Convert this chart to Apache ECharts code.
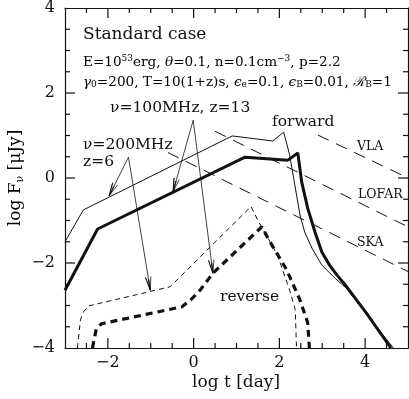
<!DOCTYPE html>
<html>
<head>
<meta charset="utf-8">
<script src="https://cdn.jsdelivr.net/npm/echarts@6/dist/echarts.min.js"></script>
<style>
  html, body { margin: 0; padding: 0; background: #fff; }
  #chart { width: 409px; height: 399px; }
</style>
</head>
<body>
<div id="chart"></div>
<script>
  // light curves: [log t (day), log F (uJy)]
  var fwd100 = [[-3,-2.64],[-2.24,-1.2],[1.2,0.49],[2.2,0.42],[2.43,0.59],[2.52,-0.09],[2.66,-0.71],[2.83,-1.27],[2.99,-1.74],[3.17,-2.05],[3.34,-2.28],[3.57,-2.56],[4.03,-3.18],[4.6,-4.0]];
  var fwd200 = [[-3,-1.5],[-2.57,-0.75],[0.9,0.99],[1.85,0.87],[2.1,1.08],[2.24,0.54],[2.36,-0.16],[2.48,-0.87],[2.59,-1.27],[2.76,-1.65],[2.99,-2.05],[3.3,-2.36],[3.57,-2.6],[4.03,-3.2],[4.66,-4.0]];
  var rev200 = [[-2.71,-4.0],[-2.64,-3.34],[-2.57,-3.15],[-2.45,-3.01],[-0.55,-2.56],[1.34,-0.67],[1.5,-1.0],[1.95,-1.8],[2.24,-2.64],[2.37,-3.1],[2.4,-4.0]];
  var rev100 = [[-2.36,-4.0],[-2.27,-3.55],[-2.15,-3.43],[-0.27,-3.03],[-0.05,-2.85],[0.15,-2.64],[0.45,-2.24],[1.59,-1.15],[1.78,-1.5],[2.17,-2.16],[2.48,-2.87],[2.66,-3.4],[2.7,-4.0]];

  // detector sensitivities
  var vla = [[2.9,1.01],[5,0]];
  var lofar = [[0.5,1.1],[5,-1.15]];
  var ska = [[-0.6,0.6],[5,-2.2]];

  // annotation arrows: start point, then the tips
  var arrowFrom200 = [-1.52,0.49];
  var arrowTo200 = [[-1.97,-0.42],[-1.01,-2.64]];
  var arrowFrom100 = [-0.01,1.36];
  var arrowTo100 = [[-0.48,-0.32],[0.45,-2.24]];

  // tick marks (all four sides, pointing in)
  var xMajor = [-2, 0, 2, 4];
  var xMinor = [-2.5, -1.5, -1, -0.5, 0.5, 1, 1.5, 2.5, 3, 3.5, 4.5];
  var yMajor = [-2, 0, 2];
  var yMinor = [-3.5, -3, -2.5, -1.5, -1, -0.5, 0.5, 1, 1.5, 2.5, 3, 3.5];

  var X0 = -3, X1 = 5, Y0 = -4, Y1 = 4;
  var font = 'DejaVu Serif';
  var ink = '#111';

  function minus(v) {
    return v < 0 ? '\u2212' + (-v) : '' + v;
  }
  function evenOnly(v) {
    return Math.abs(v % 2) < 1e-9 ? minus(v) : '';
  }

  // arrow = shaft plus short barbs at the tip
  function arrowData(from, to) {
    var dx = from[0] - to[0], dy = from[1] - to[1];
    var len = Math.sqrt(dx * dx + dy * dy);
    dx /= len; dy /= len;
    var L = 0.32, a = 0.2;
    var c = Math.cos(a), s = Math.sin(a);
    var l = [to[0] + L * (dx * c - dy * s), to[1] + L * (dx * s + dy * c)];
    var r = [to[0] + L * (dx * c + dy * s), to[1] + L * (-dx * s + dy * c)];
    var m = [to[0] + L * 0.8 * dx, to[1] + L * 0.8 * dy];
    return [from, to, l, to, m, to, r];
  }

  function lineSeries(data, width, dash) {
    return {
      type: 'line',
      data: data,
      showSymbol: false,
      silent: true,
      lineStyle: { color: ink, width: width, type: dash || 'solid' },
      z: 3
    };
  }

  // tick data: [value, kind] kind 0 x minor, 1 x major, 2 y minor, 3 y major
  var tickData = [];
  xMinor.forEach(function (v) { tickData.push([v, 0]); });
  xMajor.forEach(function (v) { tickData.push([v, 1]); });
  yMinor.forEach(function (v) { tickData.push([v, 2]); });
  yMajor.forEach(function (v) { tickData.push([v, 3]); });

  function renderTick(params, api) {
    var v = api.value(0), kind = api.value(1);
    var len = (kind === 1 || kind === 3) ? 10 : 5;
    var st = { stroke: ink, lineWidth: 1.2 };
    var a, b;
    if (kind < 2) {
      a = api.coord([v, Y0]); b = api.coord([v, Y1]);
      return { type: 'group', children: [
        { type: 'line', shape: { x1: a[0], y1: a[1], x2: a[0], y2: a[1] - len }, style: st },
        { type: 'line', shape: { x1: b[0], y1: b[1], x2: b[0], y2: b[1] + len }, style: st }
      ] };
    }
    a = api.coord([X0, v]); b = api.coord([X1, v]);
    return { type: 'group', children: [
      { type: 'line', shape: { x1: a[0], y1: a[1], x2: a[0] + len, y2: a[1] }, style: st },
      { type: 'line', shape: { x1: b[0], y1: b[1], x2: b[0] - len, y2: b[1] }, style: st }
    ] };
  }

  var series = [
    lineSeries(fwd200, 1),
    lineSeries(fwd100, 3),
    lineSeries(rev200, 1, [5, 4]),
    lineSeries(rev100, 3.2, [7, 5]),
    lineSeries(vla, 1, [12, 8]),
    lineSeries(lofar, 1, [12, 8]),
    lineSeries(ska, 1, [12, 8])
  ];
  arrowTo200.forEach(function (t) { series.push(lineSeries(arrowData(arrowFrom200, t), 0.8)); });
  arrowTo100.forEach(function (t) { series.push(lineSeries(arrowData(arrowFrom100, t), 0.8)); });
  series.push({
    type: 'custom',
    data: tickData,
    renderItem: renderTick,
    clip: false,
    silent: true,
    z: 4
  });

  function ls() { return { color: ink, width: 1.2 }; }

  function xAx(pos, withLabel) {
    return {
      type: 'value', min: X0, max: X1, interval: 0.5, position: pos,
      axisLine: { show: true, onZero: false, lineStyle: ls() },
      axisTick: { show: false },
      axisLabel: withLabel
        ? { show: true, formatter: evenOnly, fontFamily: font, fontSize: 16, color: ink, margin: 7 }
        : { show: false },
      splitLine: { show: false }
    };
  }

  function yAx(pos, withLabel) {
    return {
      type: 'value', min: Y0, max: Y1, interval: 2, position: pos,
      axisLine: { show: true, onZero: false, lineStyle: ls() },
      axisTick: { show: false },
      axisLabel: withLabel
        ? { show: true, formatter: minus, fontFamily: font, fontSize: 16, color: ink, margin: 10 }
        : { show: false },
      splitLine: { show: false }
    };
  }

  function txt(x, y, text, size) {
    return {
      type: 'text', z: 10,
      style: { text: text, x: x, y: y, fill: ink, font: size + 'px "' + font + '"', textVerticalAlign: 'middle' }
    };
  }

  var fs = 13.6;
  var small = { fontFamily: font, fontSize: fs, color: ink };
  var ital = { fontFamily: font, fontSize: fs, fontStyle: 'italic', color: ink };
  var sup = { fontFamily: font, fontSize: 9, color: ink, verticalAlign: 'top', padding: [0, 0, 6, 0] };
  var sub = { fontFamily: font, fontSize: 9, color: ink, verticalAlign: 'bottom', padding: [6, 0, 0, 0] };

  var chart = echarts.init(document.getElementById('chart'), null, { renderer: 'canvas' });
  chart.setOption({
    animation: false,
    grid: { left: 65, right: 1, top: 8, bottom: 51, containLabel: false, outerBoundsMode: 'none' },
    xAxis: [xAx('bottom', true), xAx('top', false)],
    yAxis: [yAx('left', true), yAx('right', false)],
    series: series,
    graphic: [
      {
        type: 'text', z: 10,
        style: { text: 'log t [day]', x: 236, y: 383, fill: ink, font: '17px "' + font + '"', textAlign: 'center', textVerticalAlign: 'middle' }
      },
      {
        type: 'text', z: 10, x: 16, y: 178, rotation: Math.PI / 2,
        style: {
          text: '{t|log F}{s|\u03bd}{t| [\u03bcJy]}', textAlign: 'center', textVerticalAlign: 'middle',
          rich: {
            t: { fontFamily: font, fontSize: 17, color: ink },
            s: { fontFamily: font, fontSize: 11, color: ink, verticalAlign: 'bottom', padding: [8, 0, 0, 0] }
          }
        }
      },
      txt(83, 35, 'Standard case', 17),
      {
        type: 'text', z: 10,
        style: {
          x: 83, y: 62, textVerticalAlign: 'middle',
          text: '{t|E=10}{p|53}{t|erg, }{i|\u03b8}{t|=0.1, n=0.1cm}{p|\u22123}{t|, p=2.2}',
          rich: { t: small, p: sup, i: ital }
        }
      },
      {
        type: 'text', z: 10,
        style: {
          x: 83, y: 82, textVerticalAlign: 'middle',
          text: '{i|\u03b3}{b|0}{t|=200, T=10(1+z)s, }{i|\u03f5}{b|e}{t|=0.1, }{i|\u03f5}{b|B}{t|=0.01, }{i|\u211b}{b|B}{t|=1}',
          rich: { t: small, b: sub, i: ital }
        }
      },
      txt(110, 108, '\u03bd=100MHz, z=13', 15.5),
      txt(83, 145, '\u03bd=200MHz', 15.5),
      txt(83, 162, 'z=6', 15.5),
      txt(272, 122, 'forward', 15.5),
      txt(220, 297, 'reverse', 15.5),
      txt(357, 147, 'VLA', 12.5),
      txt(358, 195, 'LOFAR', 12.5),
      txt(357, 243, 'SKA', 12.5)
    ]
  });
</script>
</body>
</html>
